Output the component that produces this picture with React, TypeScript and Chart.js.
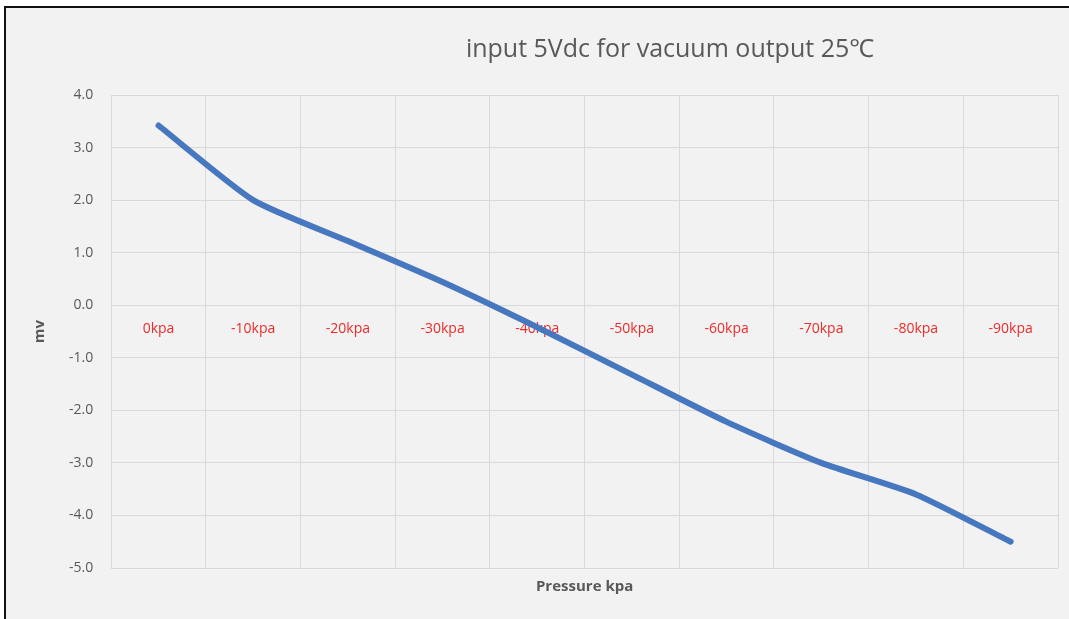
import React, { useEffect, useRef } from "react";
import { Chart, registerables } from "chart.js";

Chart.register(...registerables);

const categories = ["0kpa", "-10kpa", "-20kpa", "-30kpa", "-40kpa", "-50kpa", "-60kpa", "-70kpa", "-80kpa", "-90kpa"];
const outputMv = [3.42, 2.0, 1.22, 0.44, -0.42, -1.32, -2.22, -3.0, -3.6, -4.5];
const chartTitle = "input 5Vdc for vacuum output 25℃";
const yTitle = "mv";
const xTitle = "Pressure kpa";
const yMin = -5;
const yMax = 4;

const FONT = "'Open Sans', 'Noto Sans', sans-serif";

const titlePlugin = {
  id: "offsetTitle",
  afterDraw(chart: any) {
    const ctx = chart.ctx;
    ctx.save();
    ctx.font = `25px ${FONT}`;
    ctx.fillStyle = "#595959";
    ctx.textAlign = "center";
    ctx.textBaseline = "middle";
    ctx.fillText(chartTitle, 664, 42);
    ctx.restore();
  },
};

export default function App() {
  const ref = useRef<HTMLCanvasElement | null>(null);

  useEffect(() => {
    document.body.style.margin = "0";
    if (!ref.current) return;
    const chart = new Chart(ref.current, {
      type: "line",
      data: {
        labels: categories,
        datasets: [
          {
            data: outputMv,
            borderColor: "#4677bf",
            borderWidth: 6,
            borderCapStyle: "round",
            borderJoinStyle: "round",
            pointRadius: 0,
            tension: 0.2,
            fill: false,
            xAxisID: "x",
            yAxisID: "y",
          },
        ],
      },
      plugins: [titlePlugin],
      options: {
        responsive: false,
        animation: false,
        maintainAspectRatio: false,
        layout: { padding: { top: 87, right: 11, bottom: 19, left: 21 } },
        plugins: {
          legend: { display: false },
          tooltip: { enabled: false },
          title: { display: false },
        },
        scales: {
          x: {
            type: "category",
            position: { y: 0 } as any,
            offset: true,
            grid: { color: "#d9d9d9", lineWidth: 1, drawTicks: false, offset: true },
            border: { display: true, color: "#d9d9d9" },
            ticks: {
              color: "#ee2b2b",
              font: { family: FONT, size: 14 },
              padding: 15,
              maxRotation: 0,
            },
          },
          x2: {
            type: "category",
            position: "bottom",
            labels: categories,
            offset: true,
            grid: { display: false, drawTicks: false, tickLength: 0 },
            border: { display: false },
            ticks: { display: false },
            title: {
              display: true,
              text: xTitle,
              color: "#595959",
              font: { family: FONT, size: 15, weight: "bold" },
              padding: { top: 10, bottom: 4 },
            },
          },
          y: {
            type: "linear",
            min: yMin,
            max: yMax,
            grid: { color: "#d9d9d9", lineWidth: 1, drawTicks: false },
            border: { display: true, color: "#d9d9d9" },
            ticks: {
              stepSize: 1,
              color: "#595959",
              font: { family: FONT, size: 14 },
              padding: 18,
              callback: (v: any) => Number(v).toFixed(1),
            },
            title: {
              display: true,
              text: yTitle,
              color: "#595959",
              font: { family: FONT, size: 15, weight: "bold" },
              padding: { top: 4, bottom: 2 },
            },
          },
        },
      },
    });
    return () => chart.destroy();
  }, []);

  return (
    <div style={{ position: "relative", width: 1069, height: 619, background: "#ffffff", overflow: "hidden" }}>
      <div
        style={{
          position: "absolute",
          left: 4,
          top: 6,
          width: 1065,
          height: 613,
          background: "#f2f2f2",
          borderTop: "2px solid #111",
          borderLeft: "2px solid #111",
        }}
      >
        <canvas ref={ref} width={1063} height={611} style={{ display: "block" }} />
      </div>
    </div>
  );
}
